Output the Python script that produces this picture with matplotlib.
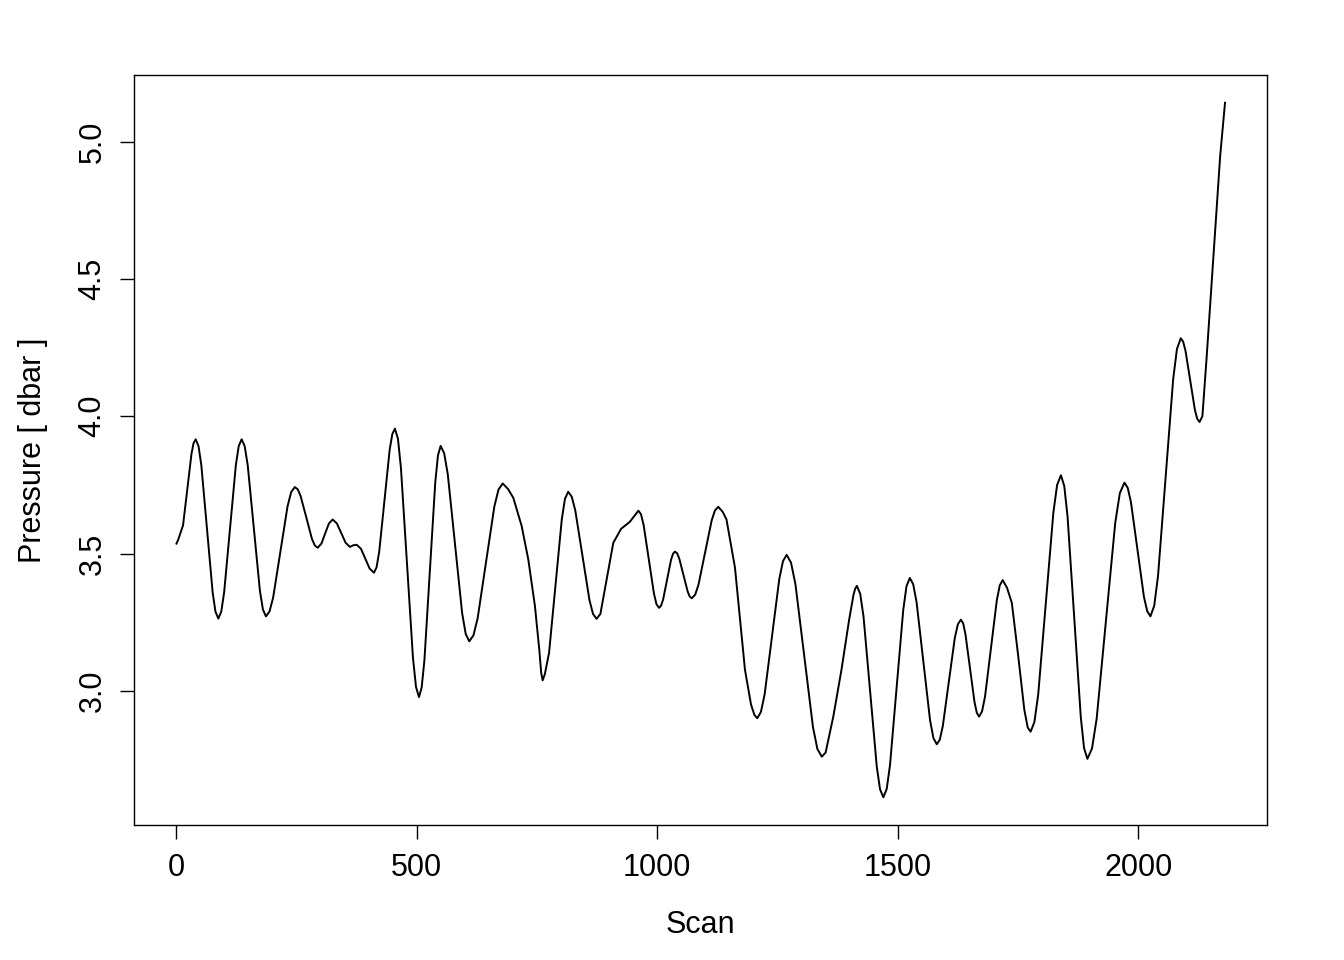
import matplotlib
matplotlib.use("Agg")
import matplotlib.pyplot as plt

plt.rcParams['font.family'] = ['Liberation Sans', 'DejaVu Sans']

# values
scan = [1, 5, 14.75, 23.5, 32.25, 36.6, 41,
        46.9, 52.75, 64.5, 76.25, 82.1, 88,
        94.1, 100.1, 112.3, 124.4, 130.4, 136.5,
        142.8, 149.1, 161.8, 174.4, 180.7, 187,
        194.5, 202, 217, 232, 239.5, 247,
        252.9, 258.9, 270.8, 282.6, 288.6, 294.5,
        302.3, 310, 317.8, 325.6,
        334.6, 343.6, 352.6, 361.6,
        368.5, 375.5,
        384.5, 393.5, 402.5, 411.5,
        416.9, 422.4, 433.3, 444.1, 449.6, 455,
        461.3, 467.5, 480, 492.5, 498.8, 505,
        510.6, 516.3, 527.5, 538.8, 544.4, 550,
        557.4, 564.9, 579.8, 594.6, 602.1, 609.5,
        618.2, 626.9, 644.3, 661.6, 670.3, 679,
        690, 701,
        718.4, 732.2, 746, 755, 759, 762,
        766.5, 775.3, 788.5, 801.8, 808.4, 815,
        822.4, 829.8, 844.5, 859.3, 866.6, 874,
        882, 895, 908.8, 925,
        943, 961,
        966.4, 971.8, 982.5, 993.3, 998.6, 1004,
        1008.1, 1012.3, 1020.5, 1028.8, 1032.9, 1037,
        1041.4, 1045.8, 1054.5, 1063.3, 1067.6, 1072,
        1078.9, 1085.8, 1099.5, 1113.3, 1120.1, 1127,
        1136, 1144,
        1161.6, 1182.4, 1195, 1202, 1208,
        1215.6, 1223.3, 1238.5, 1253.8, 1261.4, 1269,
        1278.1, 1287.3, 1305.5, 1323.8, 1332.9, 1342,
        1350, 1366, 1383, 1399, 1408, 1411.5, 1415,
        1421.9, 1428.8, 1442.5, 1456.3, 1463.1, 1470,
        1476.9, 1483.8, 1497.5, 1511.3, 1518.1, 1525,
        1532, 1539, 1553, 1567, 1574, 1581,
        1587.3, 1593.5, 1606, 1618.5, 1624.8, 1631,
        1635.8, 1640.5, 1650, 1659.5, 1664.3, 1669,
        1675.1, 1681.3, 1693.5, 1705.8, 1711.9, 1718,
        1727, 1737,
        1750, 1763, 1770, 1776,
        1783.9, 1791.8, 1807.5, 1823.3, 1831.1, 1839,
        1845.9, 1852.8, 1866.5, 1880.3, 1887.1, 1894,
        1903.6, 1913.3, 1932.5, 1951.8, 1961.4, 1971,
        1977.8, 1984.5, 1998, 2011.5, 2018.3, 2025,
        2032.9, 2040.8, 2056.5, 2072.3, 2080.1, 2088,
        2092.9, 2097.8, 2107.5, 2117.3, 2122.1, 2127,
        2133, 2142, 2156, 2170, 2180]

pressure = [3.536, 3.552, 3.603, 3.733, 3.863, 3.902, 3.916,
            3.891, 3.821, 3.590, 3.358, 3.288, 3.263,
            3.288, 3.358, 3.590, 3.821, 3.891, 3.916,
            3.891, 3.822, 3.594, 3.365, 3.296, 3.271,
            3.289, 3.340, 3.507, 3.673, 3.724, 3.742,
            3.734, 3.710, 3.632, 3.553, 3.529, 3.521,
            3.536, 3.573, 3.609, 3.624,
            3.609, 3.574, 3.539, 3.524,
            3.530, 3.532,
            3.517, 3.481, 3.445, 3.430,
            3.450, 3.507, 3.693, 3.878, 3.935, 3.955,
            3.918, 3.812, 3.466, 3.120, 3.014, 2.977,
            3.012, 3.111, 3.435, 3.758, 3.857, 3.892,
            3.865, 3.788, 3.536, 3.284, 3.207, 3.180,
            3.202, 3.264, 3.468, 3.671, 3.733, 3.755,
            3.735, 3.703,
            3.600, 3.478, 3.308, 3.150, 3.065, 3.038,
            3.060, 3.138, 3.382, 3.625, 3.699, 3.725,
            3.707, 3.657, 3.494, 3.330, 3.280, 3.262,
            3.280, 3.405, 3.539, 3.590,
            3.615, 3.656,
            3.643, 3.604, 3.479, 3.354, 3.315, 3.302,
            3.310, 3.332, 3.405, 3.477, 3.499, 3.507,
            3.501, 3.482, 3.422, 3.362, 3.343, 3.337,
            3.350, 3.386, 3.504, 3.621, 3.657, 3.670,
            3.652, 3.624,
            3.449, 3.077, 2.950, 2.912, 2.900,
            2.923, 2.987, 3.198, 3.408, 3.472, 3.495,
            3.467, 3.388, 3.128, 2.867, 2.788, 2.760,
            2.775, 2.906, 3.077, 3.260, 3.350, 3.372, 3.382,
            3.353, 3.270, 2.997, 2.724, 2.641, 2.612,
            2.642, 2.729, 3.012, 3.294, 3.381, 3.411,
            3.388, 3.323, 3.108, 2.893, 2.828, 2.805,
            2.822, 2.871, 3.032, 3.193, 3.242, 3.259,
            3.246, 3.207, 3.083, 2.958, 2.919, 2.906,
            2.925, 2.979, 3.155, 3.330, 3.384, 3.403,
            3.375, 3.320,
            3.130, 2.930, 2.866, 2.851,
            2.886, 2.987, 3.318, 3.649, 3.750, 3.785,
            3.746, 3.634, 3.269, 2.903, 2.791, 2.752,
            2.790, 2.899, 3.255, 3.611, 3.720, 3.758,
            3.739, 3.687, 3.515, 3.342, 3.290, 3.271,
            3.310, 3.419, 3.778, 4.136, 4.245, 4.284,
            4.272, 4.239, 4.132, 4.024, 3.991, 3.979,
            4.000, 4.220, 4.585, 4.950, 5.142]

xticks = [0, 500, 1000, 1500, 2000]
yticks = [3.0, 3.5, 4.0, 4.5, 5.0]

fig = plt.figure(figsize=(13.44, 9.6), dpi=100)
ax = fig.add_axes([0.0997, 0.1406, 0.843, 0.7813])
ax.plot(scan, pressure, color='black', linewidth=1.4, solid_joinstyle='round')

ax.set_xlim(-87.2, 2267.2)
ax.set_ylim(2.511, 5.243)
ax.set_xticks(xticks)
ax.set_yticks(yticks)
ax.set_xticklabels([str(v) for v in xticks])
ax.set_yticklabels(['%.1f' % v for v in yticks])
for lab in ax.get_yticklabels():
    lab.set_rotation(90)
    lab.set_va('center')

ax.tick_params(direction='out', length=10, width=1.0, labelsize=22, colors='black')
ax.tick_params(axis='x', pad=10)
ax.tick_params(axis='y', pad=9)
for sp in ax.spines.values():
    sp.set_linewidth(1.0)

ax.set_xlabel('Scan', fontsize=22, va='center')
ax.xaxis.set_label_coords(0.5, -0.1335)
ax.set_ylabel('Pressure [ dbar ]', fontsize=22, va='center')
ax.yaxis.set_label_coords(-0.0891, 0.5)

fig.savefig('out.png', dpi=100)
